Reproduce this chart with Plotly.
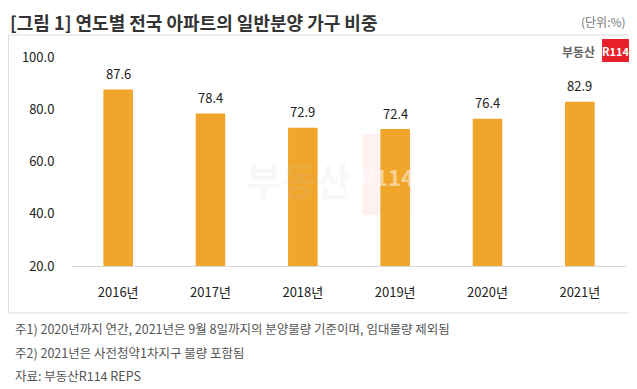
import plotly.graph_objects as go

years = ["2016년", "2017년", "2018년", "2019년", "2020년", "2021년"]
values = [87.6, 78.4, 72.9, 72.4, 76.4, 82.9]
labels = ["87.6", "78.4", "72.9", "72.4", "76.4", "82.9"]
y_ticks = [20, 40, 60, 80, 100]
y_tick_text = ["20.0", "40.0", "60.0", "80.0", "100.0"]

OFF = 8  # page body margin in the browser
W, H = 637 - OFF, 389 - OFF
FONT = "Noto Sans CJK KR"

# plot area in reference-pixel coordinates
PL, PR, PT, PB = 72, 626, 57, 266

fig = go.Figure()
fig.add_trace(go.Bar(
    x=years, y=values, marker=dict(color="#F0A52B", line=dict(width=0)),
    width=0.32, hoverinfo="skip",
))

for x, v, t in zip(years, values, labels):
    fig.add_annotation(x=x, y=v, text=t, showarrow=False, yshift=16,
                       font=dict(family=FONT, size=13, color="#222"))

def px(x):
    return (x - PL) / (PR - PL)

def py(y):
    return (PB - y) / (PB - PT)

shapes = [
    dict(type="rect", xref="paper", yref="paper", x0=px(8.5), x1=px(632), y0=py(313), y1=py(35),
         line=dict(color="#DDDDDD", width=1), fillcolor="rgba(0,0,0,0)", layer="below"),
    dict(type="rect", xref="paper", yref="paper", x0=px(602), x1=px(629), y0=py(62), y1=py(39),
         line=dict(width=0), fillcolor="#E8202A"),
    dict(type="rect", xref="paper", yref="paper", x0=px(362), x1=px(412), y0=py(215), y1=py(134),
         line=dict(width=0), fillcolor="rgba(240,120,120,0.10)", layer="below"),
]

fig.update_layout(
    width=W, height=H,
    margin=dict(l=PL - OFF, r=637 - PR, t=PT - OFF, b=389 - PB, autoexpand=False),
    paper_bgcolor="white", plot_bgcolor="rgba(0,0,0,0)",
    showlegend=False,
    shapes=shapes,
    font=dict(family=FONT, color="#333"),
    xaxis=dict(showgrid=False, showline=True, linecolor="#D9D9D9", linewidth=1,
               ticks="outside", ticklen=14, tickcolor="rgba(0,0,0,0)",
               tickfont=dict(family=FONT, size=13, color="#222"), fixedrange=True),
    yaxis=dict(range=[20, 100], tickvals=y_ticks, ticktext=y_tick_text, showgrid=False,
               zeroline=False, showline=False, ticks="outside", ticklen=14,
               tickcolor="rgba(0,0,0,0)",
               tickfont=dict(family=FONT, size=13, color="#222"), fixedrange=True),
)

annos = [
    dict(text="<b>[그림 1] 연도별 전국 아파트의 일반분양 가구 비중</b>", x=px(9), y=py(8),
         xanchor="left", yanchor="top", borderpad=0, font=dict(size=18, color="#333")),
    dict(text="(단위:%)", x=px(628), y=py(21), xanchor="right", yanchor="middle",
         font=dict(size=12, color="#777")),
    dict(text="<b>부동산</b>", x=px(597), y=py(51), xanchor="right", yanchor="middle",
         font=dict(size=12, color="#666")),
    dict(text="<b>R114</b>", x=px(615.5), y=py(51), xanchor="center", yanchor="middle",
         font=dict(size=11, color="white")),
    dict(text="<b>부동산</b>", x=px(298), y=py(178), xanchor="center", yanchor="middle",
         font=dict(size=38, color="rgba(200,200,200,0.15)")),
    dict(text="<b>R114</b>", x=px(387), y=py(176), xanchor="center", yanchor="middle",
         font=dict(size=22, color="rgba(255,255,255,0.5)")),
    dict(text="주1) 2020년까지 연간, 2021년은 9월 8일까지의 분양물량 기준이며, 임대물량 제외됨",
         x=px(13), y=py(328), xanchor="left", yanchor="middle", font=dict(size=12.5, color="#555")),
    dict(text="주2) 2021년은 사전청약1차지구 물량 포함됨",
         x=px(13), y=py(352), xanchor="left", yanchor="middle", font=dict(size=12.5, color="#555")),
    dict(text="자료: 부동산R114 REPS",
         x=px(13), y=py(376), xanchor="left", yanchor="middle", font=dict(size=12.5, color="#555")),
]
for a in annos:
    fig.add_annotation(xref="paper", yref="paper", showarrow=False, **a)

fig.write_html("out.html")
